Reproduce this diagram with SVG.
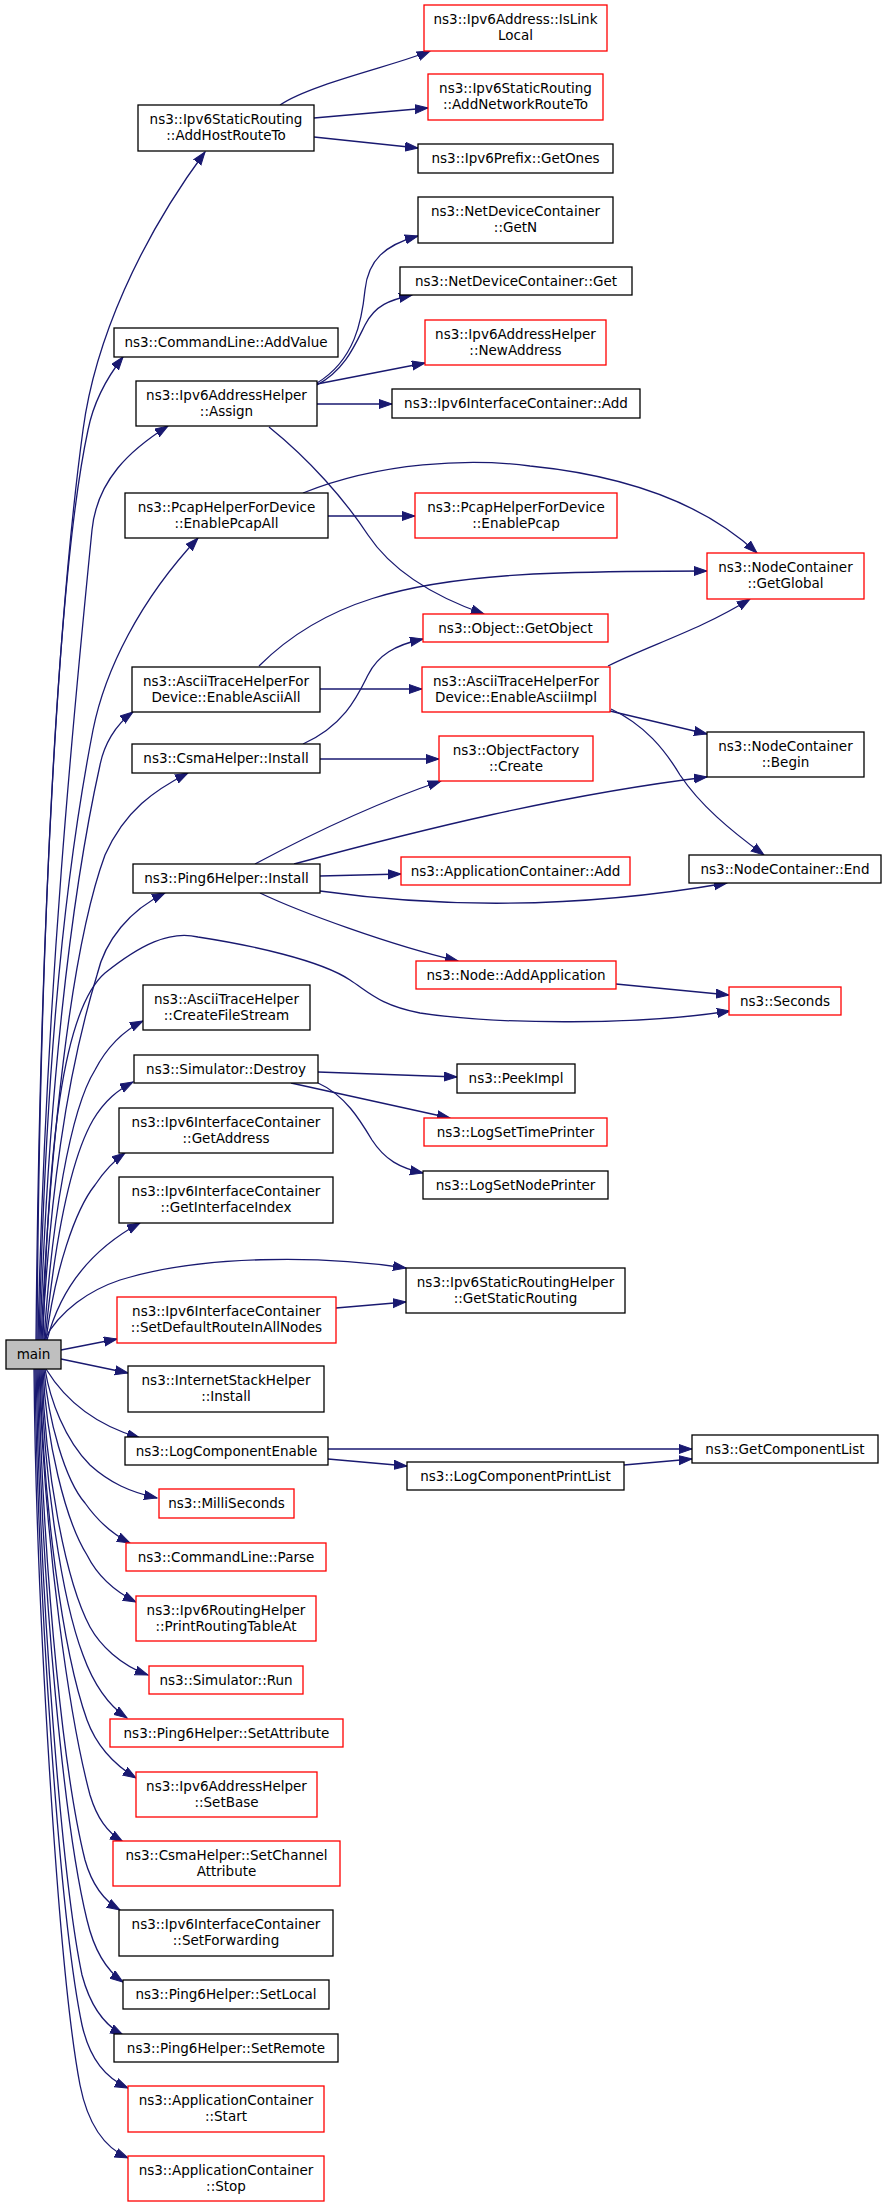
<svg xmlns="http://www.w3.org/2000/svg" width="883" height="2207" viewBox="0 0 883 2207">
<defs>
<style>
.n rect{fill:#ffffff;stroke:#000000;stroke-width:1.3}
.r rect{fill:#ffffff;stroke:#ff0000;stroke-width:1.3}
.m rect{fill:#bfbfbf;stroke:#000000;stroke-width:1.3}
text{font-family:"DejaVu Sans","Liberation Sans",sans-serif;font-size:13.5px;text-anchor:middle;fill:#000000}
.e path{fill:none;stroke:#191970;stroke-width:1.3;marker-end:url(#a)}
</style>
<marker id="a" markerUnits="userSpaceOnUse" markerWidth="15" markerHeight="11" refX="13" refY="5" orient="auto">
<path d="M0,0.5 L13,5 L0,9.5 z" fill="#191970" stroke="#191970" stroke-width="1"/>
</marker>
</defs>
<rect width="883" height="2207" fill="#ffffff"/>
<g id="edges" class="e">
<path d="M36,1340 C40,900 60,600 83,430 C95,340 140,240 205,152"/>
<path d="M37,1340 C40,900 60,560 88,430 C93,405 105,380 123,357"/>
<path d="M38,1340 C45,1000 75,700 92,530 C97,480 130,450 168,426"/>
<path d="M39,1340 C45,1100 60,900 93,730 C105,670 140,600 198,538"/>
<path d="M40,1340 C48,1100 70,900 100,765 C104,745 115,725 133,712"/>
<path d="M41,1340 C50,1150 70,950 105,855 C125,810 155,790 188,773"/>
<path d="M42,1340 C50,1200 65,1080 97,975 C105,940 130,910 165,893"/>
<path d="M43,1340 C48,1150 62,1010 105,973 C140,945 170,930 198,937 C250,945 320,960 350,980 C370,993 380,1005 420,1013 C500,1025 640,1025 730,1011"/>
<path d="M44,1340 C52,1220 70,1110 95,1070 C108,1045 125,1030 143,1021"/>
<path d="M45,1340 C55,1240 70,1160 93,1120 C105,1100 118,1090 133,1082"/>
<path d="M46,1340 C55,1270 75,1210 95,1185 C105,1170 115,1160 125,1153"/>
<path d="M47,1340 C60,1290 90,1250 140,1223"/>
<path d="M44,1340 C60,1310 90,1290 120,1280 C200,1255 320,1255 406,1268"/>
<path d="M61,1350 L117,1339"/>
<path d="M61,1359 L128,1373"/>
<path d="M46,1369 C65,1400 95,1425 140,1438"/>
<path d="M45,1369 C50,1400 65,1440 90,1465 C110,1483 130,1492 157,1498"/>
<path d="M44,1369 C48,1420 65,1480 85,1503 C97,1520 110,1533 130,1543"/>
<path d="M43,1369 C46,1440 65,1520 87,1555 C97,1575 112,1590 136,1602"/>
<path d="M42,1369 C45,1470 65,1580 90,1627 C100,1645 120,1665 148,1675"/>
<path d="M41,1369 C44,1480 62,1600 83,1655 C92,1680 105,1703 127,1718"/>
<path d="M40,1369 C43,1500 62,1650 87,1720 C95,1742 110,1762 136,1778"/>
<path d="M39,1369 C45,1550 70,1720 90,1795 C97,1818 107,1832 123,1842"/>
<path d="M38,1369 C45,1600 65,1780 85,1860 C92,1885 103,1900 120,1910"/>
<path d="M37,1369 C42,1600 65,1830 87,1920 C94,1950 106,1970 123,1982"/>
<path d="M36,1369 C40,1600 62,1880 82,1975 C90,2005 104,2025 123,2035"/>
<path d="M35,1369 C38,1600 60,1920 82,2025 C90,2060 106,2078 128,2088"/>
<path d="M34,1369 C36,1600 58,1970 80,2085 C88,2125 105,2148 128,2158"/>
<path d="M280,105 C310,84 400,64 430,51"/>
<path d="M314,118 L428,108"/>
<path d="M314,137 L418,148"/>
<path d="M317,383 C355,360 362,320 365,290 C368,260 385,245 418,236"/>
<path d="M317,385 C345,370 355,345 365,325 C375,305 390,300 412,295"/>
<path d="M317,384 L425,363"/>
<path d="M317,404 L392,404"/>
<path d="M269,427 C310,460 345,500 368,535 C390,568 430,595 484,614"/>
<path d="M328,516 L415,516"/>
<path d="M303,493 C380,462 470,458 530,466 C620,475 700,500 757,553"/>
<path d="M259,666 C320,605 400,578 560,573 C620,571 670,571 707,571"/>
<path d="M320,689 L422,689"/>
<path d="M303,744 C345,725 358,695 368,675 C378,655 395,645 423,639"/>
<path d="M320,759 L439,759"/>
<path d="M608,666 C650,645 700,630 750,599"/>
<path d="M610,711 L707,734"/>
<path d="M611,709 C645,725 665,750 680,775 C700,805 730,830 764,855"/>
<path d="M255,864 C300,840 370,805 441,781"/>
<path d="M294,864 C420,830 560,795 707,777"/>
<path d="M320,876 L401,874"/>
<path d="M320,891 C420,905 560,912 727,883"/>
<path d="M260,893 C300,912 390,945 458,961"/>
<path d="M616,984 L729,995"/>
<path d="M318,1072 L457,1077"/>
<path d="M291,1083 L450,1118"/>
<path d="M318,1083 C345,1095 360,1120 372,1140 C385,1160 400,1168 423,1173"/>
<path d="M336,1308 L406,1302"/>
<path d="M328,1449 L692,1449"/>
<path d="M328,1459 L407,1466"/>
<path d="M624,1465 L692,1459"/>
</g>
<g id="n1" class="r"><rect x="424" y="5" width="183" height="46"/><text x="515.5" y="24">ns3::Ipv6Address::IsLink</text><text x="515.5" y="40">Local</text></g>
<g id="n2" class="r"><rect x="428" y="74" width="175" height="46"/><text x="515.5" y="93">ns3::Ipv6StaticRouting</text><text x="515.5" y="109">::AddNetworkRouteTo</text></g>
<g id="n3" class="n"><rect x="138" y="105" width="176" height="46"/><text x="226" y="124">ns3::Ipv6StaticRouting</text><text x="226" y="140">::AddHostRouteTo</text></g>
<g id="n4" class="n"><rect x="418" y="144" width="195" height="29"/><text x="515.5" y="163">ns3::Ipv6Prefix::GetOnes</text></g>
<g id="n5" class="n"><rect x="418" y="197" width="195" height="46"/><text x="515.5" y="216">ns3::NetDeviceContainer</text><text x="515.5" y="232">::GetN</text></g>
<g id="n6" class="n"><rect x="400" y="267" width="232" height="28"/><text x="516" y="286">ns3::NetDeviceContainer::Get</text></g>
<g id="n7" class="n"><rect x="114" y="328" width="224" height="29"/><text x="226" y="347">ns3::CommandLine::AddValue</text></g>
<g id="n8" class="r"><rect x="425" y="320" width="181" height="45"/><text x="515.5" y="338.5">ns3::Ipv6AddressHelper</text><text x="515.5" y="354.5">::NewAddress</text></g>
<g id="n9" class="n"><rect x="136" y="381" width="181" height="45"/><text x="226.5" y="399.5">ns3::Ipv6AddressHelper</text><text x="226.5" y="415.5">::Assign</text></g>
<g id="n10" class="n"><rect x="392" y="389" width="248" height="29"/><text x="516" y="408">ns3::Ipv6InterfaceContainer::Add</text></g>
<g id="n11" class="n"><rect x="125" y="493" width="203" height="45"/><text x="226.5" y="511.5">ns3::PcapHelperForDevice</text><text x="226.5" y="527.5">::EnablePcapAll</text></g>
<g id="n12" class="r"><rect x="415" y="493" width="202" height="45"/><text x="516" y="511.5">ns3::PcapHelperForDevice</text><text x="516" y="527.5">::EnablePcap</text></g>
<g id="n13" class="r"><rect x="707" y="553" width="157" height="46"/><text x="785.5" y="572">ns3::NodeContainer</text><text x="785.5" y="588">::GetGlobal</text></g>
<g id="n14" class="r"><rect x="423" y="614" width="185" height="28"/><text x="515.5" y="633">ns3::Object::GetObject</text></g>
<g id="n15" class="n"><rect x="132" y="667" width="188" height="45"/><text x="226" y="685.5">ns3::AsciiTraceHelperFor</text><text x="226" y="701.5">Device::EnableAsciiAll</text></g>
<g id="n16" class="r"><rect x="422" y="667" width="188" height="45"/><text x="516" y="685.5">ns3::AsciiTraceHelperFor</text><text x="516" y="701.5">Device::EnableAsciiImpl</text></g>
<g id="n17" class="n"><rect x="707" y="732" width="157" height="45"/><text x="785.5" y="750.5">ns3::NodeContainer</text><text x="785.5" y="766.5">::Begin</text></g>
<g id="n18" class="n"><rect x="132" y="744" width="188" height="29"/><text x="226" y="763">ns3::CsmaHelper::Install</text></g>
<g id="n19" class="r"><rect x="439" y="736" width="154" height="45"/><text x="516" y="754.5">ns3::ObjectFactory</text><text x="516" y="770.5">::Create</text></g>
<g id="n20" class="n"><rect x="133" y="864" width="187" height="29"/><text x="226.5" y="883">ns3::Ping6Helper::Install</text></g>
<g id="n21" class="r"><rect x="401" y="857" width="229" height="28"/><text x="515.5" y="876">ns3::ApplicationContainer::Add</text></g>
<g id="n22" class="n"><rect x="689" y="855" width="192" height="28"/><text x="785" y="874">ns3::NodeContainer::End</text></g>
<g id="n23" class="r"><rect x="416" y="961" width="200" height="28"/><text x="516" y="980">ns3::Node::AddApplication</text></g>
<g id="n24" class="r"><rect x="729" y="987" width="112" height="28"/><text x="785" y="1006">ns3::Seconds</text></g>
<g id="n25" class="n"><rect x="143" y="985" width="167" height="45"/><text x="226.5" y="1003.5">ns3::AsciiTraceHelper</text><text x="226.5" y="1019.5">::CreateFileStream</text></g>
<g id="n26" class="n"><rect x="134" y="1055" width="184" height="28"/><text x="226" y="1074">ns3::Simulator::Destroy</text></g>
<g id="n27" class="n"><rect x="457" y="1064" width="118" height="29"/><text x="516" y="1083">ns3::PeekImpl</text></g>
<g id="n28" class="r"><rect x="424" y="1118" width="183" height="28"/><text x="515.5" y="1137">ns3::LogSetTimePrinter</text></g>
<g id="n29" class="n"><rect x="119" y="1108" width="214" height="45"/><text x="226" y="1126.5">ns3::Ipv6InterfaceContainer</text><text x="226" y="1142.5">::GetAddress</text></g>
<g id="n30" class="n"><rect x="423" y="1171" width="185" height="28"/><text x="515.5" y="1190">ns3::LogSetNodePrinter</text></g>
<g id="n31" class="n"><rect x="119" y="1177" width="214" height="46"/><text x="226" y="1196">ns3::Ipv6InterfaceContainer</text><text x="226" y="1212">::GetInterfaceIndex</text></g>
<g id="n32" class="n"><rect x="406" y="1268" width="219" height="45"/><text x="515.5" y="1286.5">ns3::Ipv6StaticRoutingHelper</text><text x="515.5" y="1302.5">::GetStaticRouting</text></g>
<g id="n33" class="r"><rect x="117" y="1297" width="219" height="46"/><text x="226.5" y="1316">ns3::Ipv6InterfaceContainer</text><text x="226.5" y="1332">::SetDefaultRouteInAllNodes</text></g>
<g id="n34" class="m"><rect x="6" y="1340" width="55" height="29"/><text x="33.5" y="1359">main</text></g>
<g id="n35" class="n"><rect x="128" y="1366" width="196" height="46"/><text x="226" y="1385">ns3::InternetStackHelper</text><text x="226" y="1401">::Install</text></g>
<g id="n36" class="n"><rect x="125" y="1437" width="203" height="28"/><text x="226.5" y="1456">ns3::LogComponentEnable</text></g>
<g id="n37" class="n"><rect x="692" y="1435" width="186" height="28"/><text x="785" y="1454">ns3::GetComponentList</text></g>
<g id="n38" class="n"><rect x="407" y="1462" width="217" height="28"/><text x="515.5" y="1481">ns3::LogComponentPrintList</text></g>
<g id="n39" class="r"><rect x="159" y="1489" width="135" height="29"/><text x="226.5" y="1508">ns3::MilliSeconds</text></g>
<g id="n40" class="r"><rect x="126" y="1543" width="200" height="28"/><text x="226" y="1562">ns3::CommandLine::Parse</text></g>
<g id="n41" class="r"><rect x="136" y="1596" width="180" height="45"/><text x="226" y="1614.5">ns3::Ipv6RoutingHelper</text><text x="226" y="1630.5">::PrintRoutingTableAt</text></g>
<g id="n42" class="r"><rect x="149" y="1666" width="154" height="28"/><text x="226" y="1685">ns3::Simulator::Run</text></g>
<g id="n43" class="r"><rect x="110" y="1719" width="233" height="28"/><text x="226.5" y="1738">ns3::Ping6Helper::SetAttribute</text></g>
<g id="n44" class="r"><rect x="136" y="1772" width="181" height="45"/><text x="226.5" y="1790.5">ns3::Ipv6AddressHelper</text><text x="226.5" y="1806.5">::SetBase</text></g>
<g id="n45" class="r"><rect x="113" y="1841" width="227" height="45"/><text x="226.5" y="1859.5">ns3::CsmaHelper::SetChannel</text><text x="226.5" y="1875.5">Attribute</text></g>
<g id="n46" class="n"><rect x="119" y="1910" width="214" height="46"/><text x="226" y="1929">ns3::Ipv6InterfaceContainer</text><text x="226" y="1945">::SetForwarding</text></g>
<g id="n47" class="n"><rect x="123" y="1980" width="206" height="29"/><text x="226" y="1999">ns3::Ping6Helper::SetLocal</text></g>
<g id="n48" class="n"><rect x="114" y="2034" width="224" height="28"/><text x="226" y="2053">ns3::Ping6Helper::SetRemote</text></g>
<g id="n49" class="r"><rect x="128" y="2086" width="196" height="46"/><text x="226" y="2105">ns3::ApplicationContainer</text><text x="226" y="2121">::Start</text></g>
<g id="n50" class="r"><rect x="128" y="2156" width="196" height="45"/><text x="226" y="2174.5">ns3::ApplicationContainer</text><text x="226" y="2190.5">::Stop</text></g>
</svg>
